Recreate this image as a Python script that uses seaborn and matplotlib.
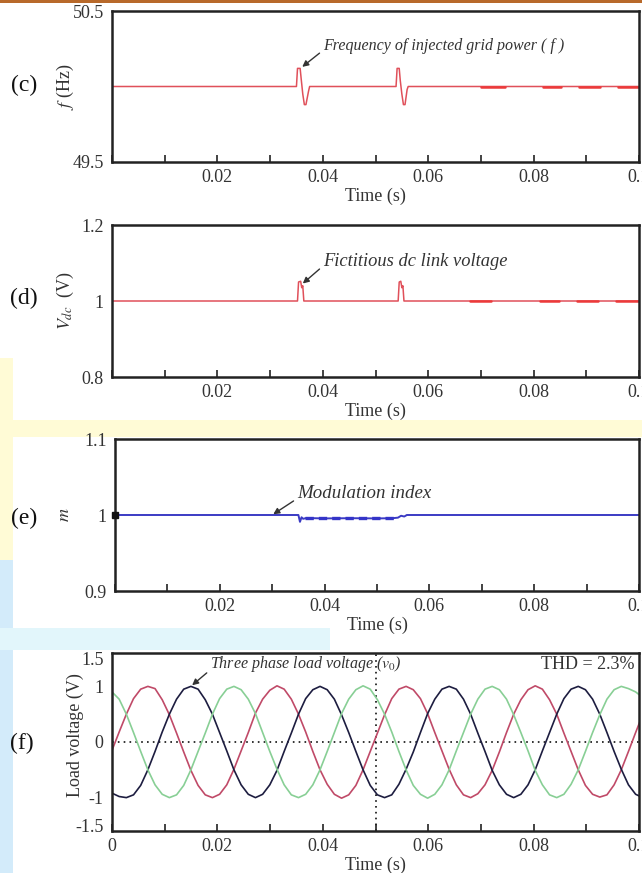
import numpy as np
import pandas as pd
import matplotlib
matplotlib.use("Agg")
import matplotlib.pyplot as plt
from matplotlib.patches import Rectangle
from matplotlib.ticker import FixedLocator, FixedFormatter
import seaborn as sns

# ------------------------------------------------------------
# Data
# ------------------------------------------------------------
# (c) frequency of injected grid power
f_time = [0.0, 0.0350, 0.0352, 0.0357, 0.0359, 0.0362, 0.0365, 0.0368, 0.0373, 0.0375,
          0.0539, 0.0541, 0.0545, 0.0547, 0.0550, 0.0553, 0.0556, 0.0560, 0.0562, 0.1]
f_vals = [50.0, 50.0, 50.12, 50.12, 50.05, 49.95, 49.88, 49.88, 49.97, 50.0,
          50.0, 50.12, 50.12, 50.04, 49.95, 49.88, 49.88, 49.98, 50.0, 50.0]
f_dash_start = [0.0700, 0.0817, 0.0887, 0.0961]
f_dash_end = [0.0745, 0.0852, 0.0926, 0.1000]

# (d) fictitious dc link voltage
vdc_time = [0.0, 0.0352, 0.0354, 0.0358, 0.0360, 0.0362, 0.0364, 0.0366,
            0.0543, 0.0545, 0.0548, 0.0550, 0.0552, 0.0554, 0.0556, 0.1]
vdc_vals = [1.0, 1.0, 1.05, 1.052, 1.035, 1.04, 1.0, 1.0,
            1.0, 1.05, 1.052, 1.035, 1.04, 1.0, 1.0, 1.0]
vdc_dash_start = [0.0680, 0.0813, 0.0883, 0.0957]
vdc_dash_end = [0.0720, 0.0848, 0.0922, 0.1000]

# (e) modulation index
m_time = [0.0, 0.0350, 0.0353, 0.0356, 0.0359, 0.0365, 0.0400, 0.0450, 0.0500,
          0.0530, 0.0540, 0.0546, 0.0552, 0.0557, 0.1]
m_vals = [1.0, 1.0, 0.991, 0.997, 0.995, 0.996, 0.9955, 0.9958, 0.9955,
          0.9958, 0.9965, 0.999, 0.998, 1.0, 1.0]

# (f) three phase load voltage, sampled every 1/18 of a period
wave_step = 0.0245 / 18
red_v = [
    -0.15, 0.18, 0.50, 0.78, 0.95, 1.00, 0.96, 0.76, 0.49, 0.16, -0.18, -0.51, -0.78, -0.95, -1.00, -0.94, -0.77, -0.49,
    -0.16, 0.17, 0.52, 0.77, 0.93, 1.01, 0.95, 0.77, 0.50, 0.18, -0.17, -0.50, -0.76, -0.94, -1.01, -0.95, -0.78, -0.50,
    -0.17, 0.16, 0.49, 0.78, 0.95, 1.00, 0.94, 0.78, 0.51, 0.17, -0.16, -0.49, -0.77, -0.95, -1.00, -0.93, -0.77, -0.51,
    -0.18, 0.17, 0.50, 0.76, 0.94, 1.01, 0.95, 0.76, 0.50, 0.16, -0.17, -0.50, -0.78, -0.94, -0.99, -0.95, -0.77, -0.50,
    -0.17, 0.17, 0.50]
black_v = [
    -0.92, -0.98, -1.00, -0.95, -0.78, -0.50, -0.17, 0.18, 0.50, 0.77, 0.95, 1.00, 0.95, 0.76, 0.50, 0.17, -0.16, -0.50,
    -0.77, -0.94, -1.00, -0.94, -0.77, -0.51, -0.17, 0.16, 0.50, 0.78, 0.94, 1.00, 0.94, 0.77, 0.49, 0.17, -0.17, -0.50,
    -0.78, -0.95, -1.00, -0.95, -0.76, -0.49, -0.18, 0.17, 0.51, 0.77, 0.95, 1.00, 0.95, 0.77, 0.50, 0.16, -0.17, -0.51,
    -0.77, -0.94, -1.00, -0.94, -0.77, -0.50, -0.16, 0.17, 0.50, 0.78, 0.95, 1.00, 0.94, 0.77, 0.50, 0.17, -0.17, -0.49,
    -0.77, -0.94, -1.00]
green_v = [
    0.90, 0.77, 0.50, 0.17, -0.17, -0.50, -0.77, -0.94, -1.00, -0.95, -0.78, -0.50, -0.17, 0.16, 0.50, 0.78, 0.95, 1.00,
    0.94, 0.77, 0.51, 0.17, -0.17, -0.49, -0.77, -0.95, -1.00, -0.94, -0.77, -0.50, -0.17, 0.17, 0.51, 0.77, 0.94, 1.01,
    0.95, 0.76, 0.50, 0.18, -0.17, -0.50, -0.78, -0.94, -1.01, -0.94, -0.77, -0.50, -0.16, 0.17, 0.50, 0.77, 0.95, 1.00,
    0.94, 0.77, 0.49, 0.17, -0.16, -0.51, -0.77, -0.95, -1.00, -0.94, -0.76, -0.50, -0.17, 0.17, 0.49, 0.77, 0.94, 1.00,
    0.96, 0.90, 0.80]

x_ticks = [0.00, 0.01, 0.02, 0.03, 0.04, 0.05, 0.06, 0.07, 0.08, 0.09, 0.10]
x_labels = ["", "", "0.02", "", "0.04", "", "0.06", "", "0.08", "", "0.1"]
x_labels_f = ["0", "", "0.02", "", "0.04", "", "0.06", "", "0.08", "", "0.1"]

# ------------------------------------------------------------
# Style
# ------------------------------------------------------------
sns.set_theme(style="white")
plt.rcParams["font.family"] = ["Liberation Serif", "DejaVu Serif"]
plt.rcParams["mathtext.fontset"] = "stix"

TXT = "#333333"
W, H = 642, 873

fig = plt.figure(figsize=(6.42, 8.73), dpi=100)
fig.patch.set_facecolor("white")

# slide background pieces
def band(x0, y0, x1, y1, color):
    fig.add_artist(Rectangle((x0 / W, 1 - y1 / H), (x1 - x0) / W, (y1 - y0) / H,
                             transform=fig.transFigure, color=color, zorder=-5, lw=0))

band(0, 0, 642, 3, "#b8692a")
band(0, 358, 13, 560, "#fffbd6")
band(0, 420, 642, 437, "#fffbd6")
band(0, 560, 13, 873, "#d3ebfa")
band(0, 628, 330, 650, "#e2f6fb")


def make_axes(px_left, px_top, px_right, px_bottom):
    return fig.add_axes([px_left / W, 1 - px_bottom / H,
                         (px_right - px_left) / W, (px_bottom - px_top) / H])


def style_axes(ax, ylim, yticks, ylabels, xlabels):
    ax.set_xlim(0, 0.1)
    ax.set_ylim(*ylim)
    ax.xaxis.set_major_locator(FixedLocator(x_ticks))
    ax.xaxis.set_major_formatter(FixedFormatter(xlabels))
    ax.yaxis.set_major_locator(FixedLocator(yticks))
    ax.yaxis.set_major_formatter(FixedFormatter(ylabels))
    ax.tick_params(axis="x", direction="in", length=5, width=1.2, color="#222222",
                   labelsize=13, labelcolor=TXT, pad=5, bottom=True)
    ax.tick_params(axis="y", length=0, labelsize=13, labelcolor=TXT, pad=6)
    for s in ax.spines.values():
        s.set_linewidth(1.8)
        s.set_color("#222222")
    ax.set_xlabel("Time (s)", fontsize=13, color=TXT, labelpad=1)
    ax.set_facecolor("white")


def dash_frame(starts, ends, value):
    rows = []
    for i, (a, b) in enumerate(zip(starts, ends)):
        rows.append({"seg": i, "t": a, "v": value})
        rows.append({"seg": i, "t": b, "v": value})
    return pd.DataFrame(rows)


arrow_kw = dict(arrowstyle="-|>", color="#333333", lw=1.0, mutation_scale=9,
                shrinkA=0, shrinkB=0)

# ------------------------------------------------------------
# (c) Frequency
# ------------------------------------------------------------
ax_c = make_axes(112, 11, 639, 162)
sns.lineplot(x=f_time, y=f_vals, ax=ax_c, color="#e0505a", lw=1.1,
             estimator=None, sort=False)
sns.lineplot(data=dash_frame(f_dash_start, f_dash_end, 49.996), x="t", y="v",
             units="seg", estimator=None, ax=ax_c, color="#ec3a3a", lw=1.8)
style_axes(ax_c, (49.5, 50.5), [49.5, 50.5], ["49.5", "50.5"], x_labels)
ax_c.set_ylabel(r"$f$ (Hz)", fontsize=13, color=TXT)
ax_c.yaxis.set_label_coords(-0.068, 0.5)
ax_c.annotate("Frequency of injected grid power ( f )", xy=(0.0361, 50.13),
              xytext=(0.0400, 50.27), fontsize=11.5, style="italic", color=TXT,
              ha="left", va="center",
              arrowprops=dict(relpos=(0, 0.2), **arrow_kw))
fig.text(24 / W, 1 - 85 / H, "(c)", fontsize=17, color="#111111", ha="center", va="center")

# ------------------------------------------------------------
# (d) Fictitious dc link voltage
# ------------------------------------------------------------
ax_d = make_axes(112, 225, 639, 377)
sns.lineplot(x=vdc_time, y=vdc_vals, ax=ax_d, color="#e0505a", lw=1.1,
             estimator=None, sort=False)
sns.lineplot(data=dash_frame(vdc_dash_start, vdc_dash_end, 0.999), x="t", y="v",
             units="seg", estimator=None, ax=ax_d, color="#ec3a3a", lw=1.8)
style_axes(ax_d, (0.8, 1.2), [0.8, 1.0, 1.2], ["0.8", "1", "1.2"], x_labels)
ax_d.set_ylabel(r"$V_{dc}$  (V)", fontsize=13, color=TXT)
ax_d.yaxis.set_label_coords(-0.068, 0.5)
ax_d.annotate("Fictitious dc link voltage", xy=(0.0362, 1.046),
              xytext=(0.0400, 1.105), fontsize=13.3, style="italic", color=TXT,
              ha="left", va="center",
              arrowprops=dict(relpos=(0, 0.2), **arrow_kw))
fig.text(24 / W, 1 - 298 / H, "(d)", fontsize=17, color="#111111", ha="center", va="center")

# ------------------------------------------------------------
# (e) Modulation index
# ------------------------------------------------------------
ax_e = make_axes(115, 439, 639, 591)
sns.lineplot(x=m_time, y=m_vals, ax=ax_e, color="#3b3bc4", lw=1.4,
             estimator=None, sort=False)
sns.lineplot(x=[0.0362, 0.0540], y=[0.9957, 0.9957], ax=ax_e, color="#3434c8",
             lw=2.4, ls=(0, (2.5, 1.5)), estimator=None)
ax_e.plot([0.0], [1.0], marker="s", ms=4.5, color="#111111", clip_on=False, zorder=5)
style_axes(ax_e, (0.9, 1.1), [0.9, 1.0, 1.1], ["0.9", "1", "1.1"], x_labels)
ax_e.set_ylabel(r"$m$", fontsize=13, color=TXT)
ax_e.yaxis.set_label_coords(-0.080, 0.5)
ax_e.annotate("Modulation index", xy=(0.0302, 1.001),
              xytext=(0.0347, 1.028), fontsize=13.6, style="italic", color=TXT,
              ha="left", va="center",
              arrowprops=dict(relpos=(0, 0.2), **arrow_kw))
fig.text(24 / W, 1 - 518 / H, "(e)", fontsize=17, color="#111111", ha="center", va="center")

# ------------------------------------------------------------
# (f) Three phase load voltage
# ------------------------------------------------------------
t_wave = np.arange(len(red_v)) * wave_step
wave = pd.DataFrame({
    "t": np.concatenate([t_wave, t_wave, t_wave]),
    "v": red_v + black_v + green_v,
    "phase": ["a"] * len(red_v) + ["b"] * len(black_v) + ["c"] * len(green_v),
})

ax_f = make_axes(112, 653, 639, 831)
sns.lineplot(data=wave, x="t", y="v", hue="phase", ax=ax_f, estimator=None,
             palette={"a": "#c04a68", "b": "#1d1d40", "c": "#88cf95"},
             lw=1.2, legend=False)
ax_f.axhline(0, color="#111111", lw=1.2, ls=(0, (1, 2.5)), zorder=0.5)
ax_f.axvline(0.05, color="#111111", lw=1.2, ls=(0, (1, 2.5)), zorder=0.5)
style_axes(ax_f, (-1.6, 1.6), [-1.5, -1.0, 0.0, 1.0, 1.5],
           ["-1.5", "-1", "0", "1", "1.5"], x_labels_f)
ax_f.set_ylabel("Load voltage (V)", fontsize=13, color=TXT)
ax_f.yaxis.set_label_coords(-0.053, 0.54)
ax_f.annotate(r"Three phase load voltage ($v_0$)", xy=(0.0152, 1.02),
              xytext=(0.0186, 1.4), fontsize=11.5, style="italic", color=TXT,
              ha="left", va="center",
              arrowprops=dict(relpos=(0, 0.2), **arrow_kw))
ax_f.text(0.0992, 1.4, "THD = 2.3%", fontsize=13, color=TXT, ha="right", va="center")
fig.text(22 / W, 1 - 743 / H, "(f)", fontsize=17, color="#111111", ha="center", va="center")

fig.savefig("out.png", dpi=100)
